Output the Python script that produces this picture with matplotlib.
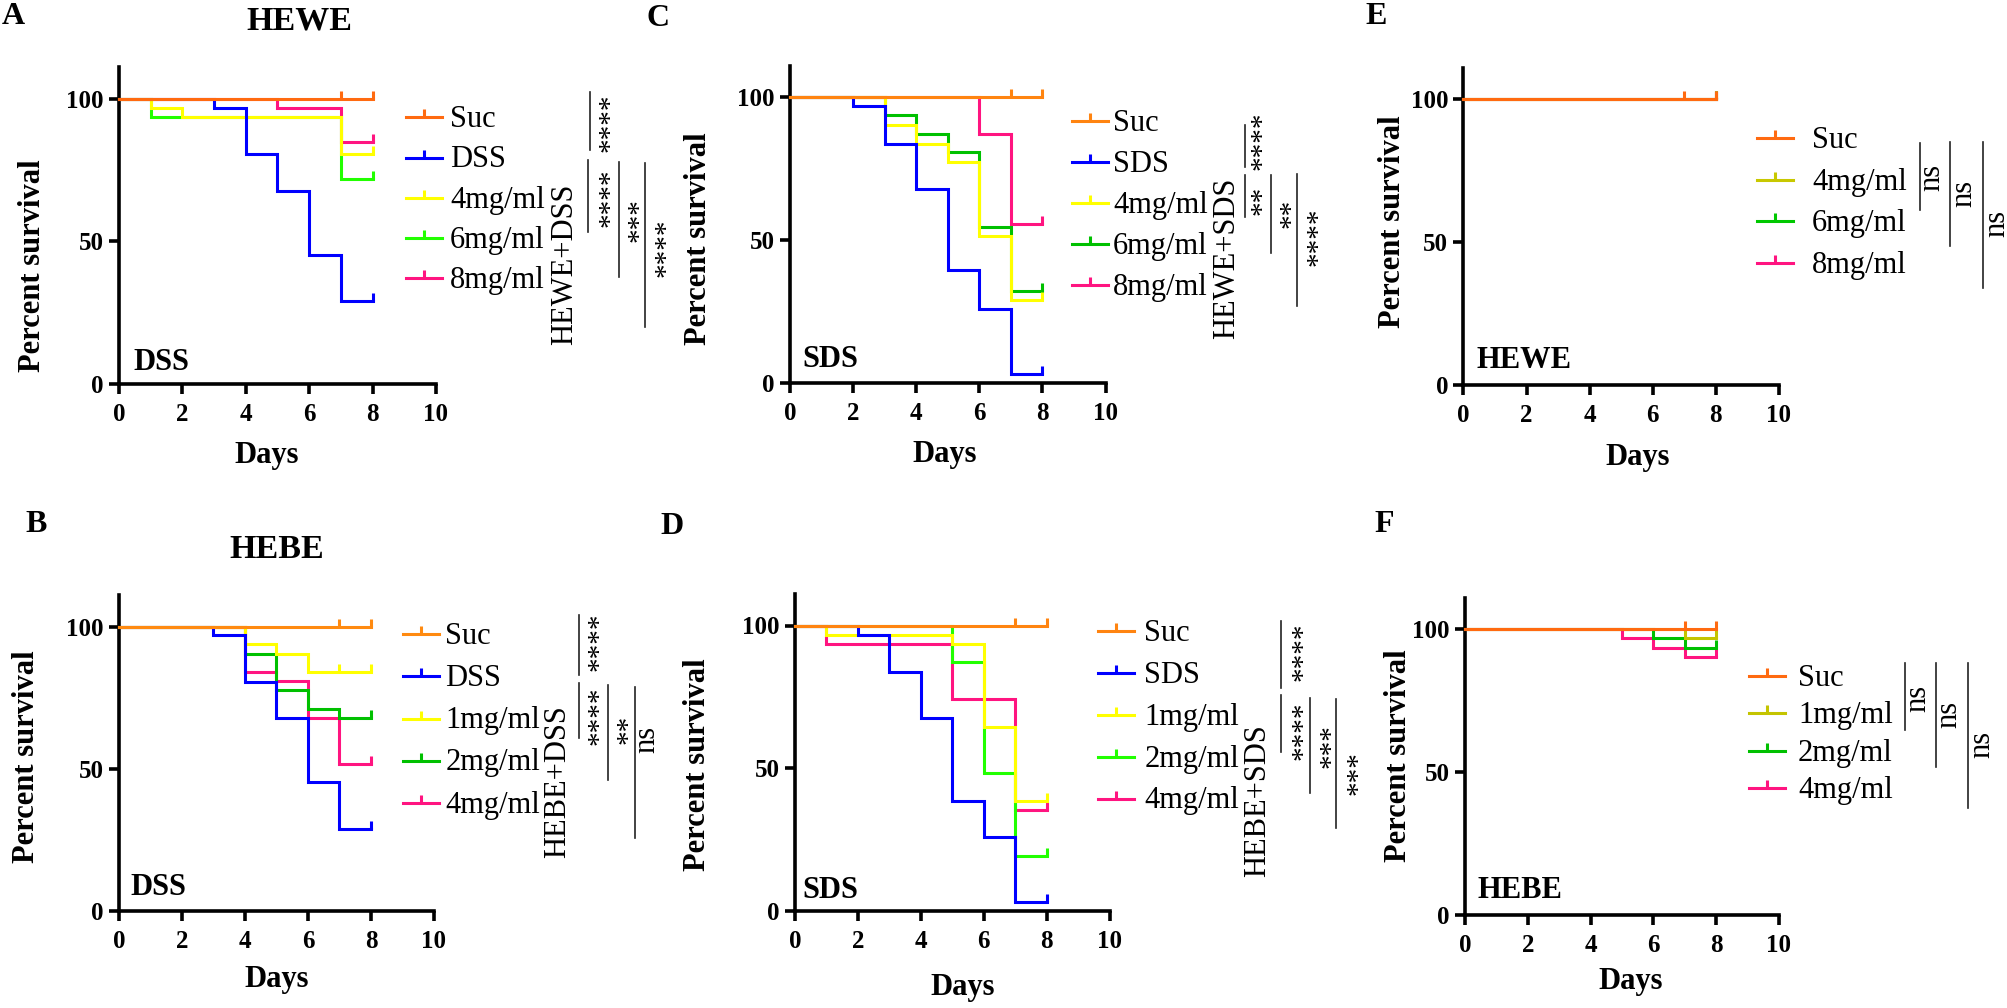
import matplotlib
matplotlib.use("Agg")
import matplotlib.pyplot as plt
from matplotlib.lines import Line2D

plt.rcParams['font.family'] = ['Liberation Serif', 'DejaVu Serif']

W, H = 2008, 1008

# ---------------- data: days / percent survival (step curves) ----------------
# A: HEWE + DSS
A_labels = ['Suc', 'DSS', '4mg/ml', '6mg/ml', '8mg/ml']
A_days = [[0, 8], [0, 3, 4, 5, 6, 7, 8], [0, 1, 2, 7, 8], [0, 1, 7, 8], [0, 5, 7, 8]]
A_surv = [[100, 100], [100, 96.8, 80.6, 67.7, 45.2, 29.0, 29.0],
          [100, 96.8, 93.5, 80.6, 80.6], [100, 93.5, 71.9, 71.9], [100, 96.8, 84.8, 84.8]]
A_censor = [[7, 8], [8], [8], [8], [8]]

# B: HEBE + DSS
B_labels = ['Suc', 'DSS', '1mg/ml', '2mg/ml', '4mg/ml']
B_days = [[0, 8], [0, 3, 4, 5, 6, 7, 8], [0, 4, 5, 6, 8], [0, 4, 5, 6, 7, 8], [0, 4, 5, 6, 7, 8]]
B_surv = [[100, 100], [100, 97.1, 80.6, 67.8, 45.2, 28.9, 28.9],
          [100, 93.9, 90.4, 84.1, 84.1], [100, 90.4, 77.7, 71.1, 67.8, 67.8],
          [100, 84.1, 80.9, 67.8, 51.6, 51.6]]
B_censor = [[7, 8], [8], [7, 8], [8], [8]]

# C: HEWE + SDS
C_labels = ['Suc', 'SDS', '4mg/ml', '6mg/ml', '8mg/ml']
C_days = [[0, 8], [0, 2, 3, 4, 5, 6, 7, 8], [0, 3, 4, 5, 6, 7, 8], [0, 3, 4, 5, 6, 7, 8], [0, 6, 7, 8]]
C_surv = [[100, 100], [100, 96.7, 83.6, 67.8, 39.5, 25.7, 3.0, 3.0],
          [100, 90.3, 83.6, 77.2, 51.5, 29.0, 29.0], [100, 93.6, 87.1, 80.6, 54.7, 32.1, 32.1],
          [100, 87.1, 55.5, 55.5]]
C_censor = [[7, 8], [8], [8], [8], [8]]

# D: HEBE + SDS
D_labels = ['Suc', 'SDS', '1mg/ml', '2mg/ml', '4mg/ml']
D_days = [[0, 8], [0, 2, 3, 4, 5, 6, 7, 8], [0, 1, 5, 6, 7, 8], [0, 5, 6, 7, 8], [0, 1, 5, 7, 8]]
D_surv = [[100, 100], [100, 96.7, 83.8, 67.6, 38.7, 25.8, 3.2, 3.2],
          [100, 96.7, 93.5, 64.5, 38.7, 38.7], [100, 87.1, 48.5, 19.3, 19.3],
          [100, 93.5, 74.2, 35.5, 35.5]]
D_censor = [[7, 8], [8], [8], [8], [8]]

# E: HEWE alone
E_labels = ['Suc', '4mg/ml', '6mg/ml', '8mg/ml']
E_days = [[0, 8], [0, 8], [0, 8], [0, 8]]
E_surv = [[100, 100], [100, 100], [100, 100], [100, 100]]
E_censor = [[7, 8], [8], [8], [8]]

# F: HEBE alone
F_labels = ['Suc', '1mg/ml', '2mg/ml', '4mg/ml']
F_days = [[0, 8], [0, 7, 8], [0, 6, 7, 8], [0, 5, 6, 7, 8]]
F_surv = [[100, 100], [100, 96.7, 96.7], [100, 96.7, 93.4, 93.4], [100, 96.7, 93.4, 90.1, 90.1]]
F_censor = [[7, 8], [8], [8], [8]]

# ---------------- styles ----------------
A_colors = ['#FF6A10', '#0000FF', '#FFFF00', '#22FF00', '#FF1480']
B_colors = ['#FF8A10', '#0000FF', '#FFFF00', '#00C000', '#FF1480']
C_colors = ['#FF8410', '#0000FF', '#FFFF00', '#00C000', '#FF1480']
D_colors = ['#FF8410', '#0000FF', '#FFFF00', '#22FF00', '#FF1480']
E_colors = ['#FF6A10', '#C8C800', '#00C800', '#FF1480']
F_colors = ['#FF6A10', '#C4C400', '#00C000', '#FF1480']

LW = 2.2

# layout in pixels: axes box (x0, x10, y0, y100)
panels = [
    dict(letter='A', days=A_days, surv=A_surv, cens=A_censor, labels=A_labels, colors=A_colors,
         box=(119, 436, 384, 98.5), letter_xy=(13, 17), title='HEWE', title_xy=(299, 21),
         inner='DSS', inner_xy=(0.47, 4.9), ylab=(-0.228, 0.373), xlab=(0.465, -0.18),
         leg=(406, 105, 0.26, 0.37), group=('HEWE+DSS', 565, 264),
         brackets=[(590, 92, 150, '****', 606, 123), (588, 160, 232, '****', 606, 198),
                   (619, 162, 277, '***', 635, 220), (645, 163, 327, '****', 662, 248)]),
    dict(letter='B', days=B_days, surv=B_surv, cens=B_censor, labels=B_labels, colors=B_colors,
         box=(119, 434, 911, 626.5), letter_xy=(36, 525), title='HEBE', title_xy=(277, 549),
         inner='DSS', inner_xy=(0.35, 5.6), ylab=(-0.248, 0.49), xlab=(0.5, -0.171),
         leg=(403, 622, 0.2, 0.43), group=('HEBE+DSS', 558, 782),
         brackets=[(579, 615, 675, '****', 595, 642), (579, 683, 738, '****', 595, 716),
                   (608, 685, 780, '**', 624, 729), (635, 687, 838, 'ns', 650, 739)]),
    dict(letter='C', days=C_days, surv=C_surv, cens=C_censor, labels=C_labels, colors=C_colors,
         box=(790, 1105.5, 383, 97), letter_xy=(658, 18), title=None, title_xy=None,
         inner='SDS', inner_xy=(0.38, 5.6), ylab=(-0.243, 0.456), xlab=(0.489, -0.178),
         leg=(1072, 109, 0.16, 0.39), group=('HEWE+SDS', 1227, 258),
         brackets=[(1245, 125, 167, '****', 1258, 141), (1245, 175, 217, '**', 1258, 200),
                   (1271, 175, 253, '**', 1287, 213), (1297, 174, 306, '****', 1314, 237)]),
    dict(letter='D', days=D_days, surv=D_surv, cens=D_censor, labels=D_labels, colors=D_colors,
         box=(795, 1109.5, 911, 625.5), letter_xy=(672, 526), title=None, title_xy=None,
         inner='SDS', inner_xy=(0.25, 4.6), ylab=(-0.265, 0.462), xlab=(0.533, -0.196),
         leg=(1098, 619, 0.33, 0.42), group=('HEBE+SDS', 1258, 801),
         brackets=[(1281, 621, 688, '****', 1299, 652), (1281, 695, 752, '****', 1299, 731),
                   (1310, 698, 793, '***', 1327, 746), (1336, 699, 828, '***', 1354, 773)]),
    dict(letter='E', days=E_days, surv=E_surv, cens=E_censor, labels=E_labels, colors=E_colors,
         box=(1463.5, 1779, 385, 99), letter_xy=(1376, 16), title=None, title_xy=None,
         inner='HEWE', inner_xy=(0.4, 6.0), ylab=(-0.18, 0.514), xlab=(0.552, -0.183),
         leg=(1757, 126, 0.62, 0.41), group=None,
         brackets=[(1920, 143, 210, 'ns', 1935, 177), (1950, 142, 246, 'ns', 1967, 193),
                   (1983, 142, 288, 'ns', 2000, 223)]),
    dict(letter='F', days=F_days, surv=F_surv, cens=F_censor, labels=F_labels, colors=F_colors,
         box=(1465, 1779, 915, 629), letter_xy=(1384, 525), title=None, title_xy=None,
         inner='HEBE', inner_xy=(0.41, 6.0), ylab=(-0.167, 0.503), xlab=(0.529, -0.165),
         leg=(1749, 664, 0.42, 0.27), group=None,
         brackets=[(1905, 663, 730, 'ns', 1921, 698), (1936, 663, 767, 'ns', 1952, 714),
                   (1968, 663, 808, 'ns', 1985, 744)]),
]


def fxy(x, y):
    return x / W, 1 - y / H


def value_at(days, surv, d):
    v = surv[0]
    for dd, ss in zip(days, surv):
        if dd <= d:
            v = ss
    return v


fig = plt.figure(figsize=(W / 100, H / 100), dpi=100)

for p in panels:
    x0, x10, y0, y100 = p['box']
    ppu = (y0 - y100) / 100.0
    ax = fig.add_axes([x0 / W, 1 - y0 / H, (x10 - x0) / W, 111 * ppu / H])
    ax.set_xlim(0, 10)
    ax.set_ylim(0, 111)

    n = len(p['days'])
    # draw last series first so Suc ends up on top
    for i in reversed(range(n)):
        d, s, c = p['days'][i], p['surv'][i], p['colors'][i]
        ax.step(d, s, where='post', color=c, lw=LW, clip_on=False, zorder=3 + (n - i) * 0.1,
                solid_joinstyle='miter')
        cy = [value_at(d, s, cd) for cd in p['cens'][i]]
        ax.plot(p['cens'][i], cy, ls='none', marker=2, ms=6, mew=LW, color=c, clip_on=False,
                zorder=3 + (n - i) * 0.1)

    for side in ['top', 'right']:
        ax.spines[side].set_visible(False)
    for side in ['left', 'bottom']:
        ax.spines[side].set_linewidth(2.6)
    ax.set_xticks([0, 2, 4, 6, 8, 10])
    ax.set_yticks([0, 50, 100])
    ax.tick_params(axis='both', direction='out', length=7, width=2.6, labelsize=18)
    ax.tick_params(axis='x', pad=7)
    ax.tick_params(axis='y', pad=4)
    for lbl in ax.get_xticklabels() + ax.get_yticklabels():
        lbl.set_fontweight('bold')

    ax.set_ylabel('Percent survival', fontsize=22, fontweight='bold')
    ax.yaxis.set_label_coords(*p['ylab'])
    ax.set_xlabel('Days', fontsize=22, fontweight='bold')
    ax.xaxis.set_label_coords(*p['xlab'])

    ax.text(p['inner_xy'][0], p['inner_xy'][1], p['inner'], fontsize=22, fontweight='bold',
            ha='left', va='baseline')

    handles = [Line2D([], [], color=c, lw=LW, marker=2, ms=6, mew=LW) for c in p['colors']]
    lx, ly, tpad, lsp = p['leg']
    ax.legend(handles, p['labels'], loc='upper left', bbox_to_anchor=fxy(lx, ly),
              bbox_transform=fig.transFigure, frameon=False, borderpad=0, borderaxespad=0,
              handlelength=1.18, handleheight=0.5, handletextpad=tpad, labelspacing=lsp,
              fontsize=22, numpoints=1)

    fig.text(*fxy(*p['letter_xy']), p['letter'], fontsize=23, fontweight='bold',
             ha='center', va='center')
    if p['title']:
        fig.text(*fxy(*p['title_xy']), p['title'], fontsize=24.5, fontweight='bold',
                 ha='center', va='center')
    if p['group']:
        g, gx, gy = p['group']
        fig.text(*fxy(gx, gy), g, fontsize=22, rotation=90, ha='center', va='center')

    for bx, bt, bb, txt, tx, ty in p['brackets']:
        fig.add_artist(Line2D([bx / W, bx / W], [1 - bt / H, 1 - bb / H], color='#222222',
                              lw=1.2, transform=fig.transFigure))
        off = 4.5 if '*' in txt else -3.0
        fig.text(*fxy(tx + off, ty), txt, fontsize=21 if '*' in txt else 22, rotation=90,
                 ha='center', va='center')

fig.savefig('out.png', dpi=100)
